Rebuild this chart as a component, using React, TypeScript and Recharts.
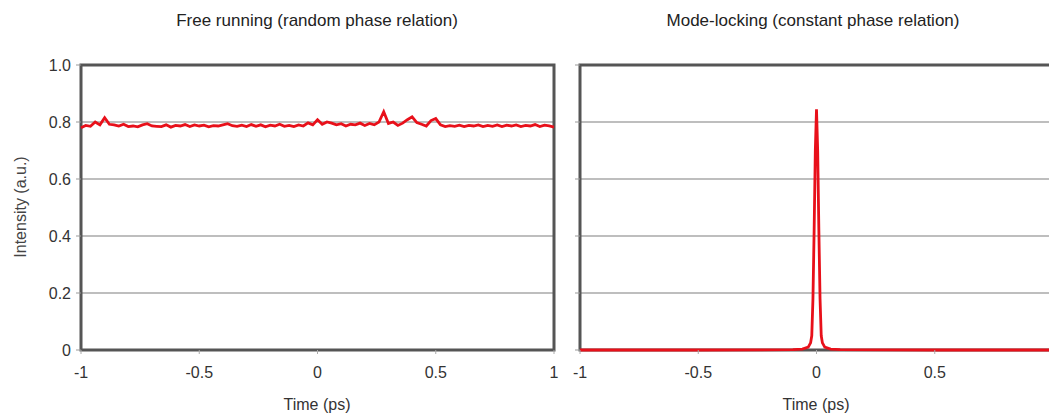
import React from "react";
import { LineChart, Line, XAxis, YAxis, CartesianGrid, ReferenceArea } from "recharts";

const freeTimes = [
  -1, -0.98, -0.96, -0.94, -0.92, -0.9, -0.88, -0.86, -0.84, -0.82,
  -0.8, -0.78, -0.76, -0.74, -0.72, -0.7, -0.68, -0.66, -0.64, -0.62,
  -0.6, -0.58, -0.56, -0.54, -0.52, -0.5, -0.48, -0.46, -0.44, -0.42,
  -0.4, -0.38, -0.36, -0.34, -0.32, -0.3, -0.28, -0.26, -0.24, -0.22,
  -0.2, -0.18, -0.16, -0.14, -0.12, -0.1, -0.08, -0.06, -0.04, -0.02,
  0, 0.02, 0.04, 0.06, 0.08, 0.1, 0.12, 0.14, 0.16, 0.18,
  0.2, 0.22, 0.24, 0.26, 0.28, 0.3, 0.32, 0.34, 0.36, 0.38,
  0.4, 0.42, 0.44, 0.46, 0.48, 0.5, 0.52, 0.54, 0.56, 0.58,
  0.6, 0.62, 0.64, 0.66, 0.68, 0.7, 0.72, 0.74, 0.76, 0.78,
  0.8, 0.82, 0.84, 0.86, 0.88, 0.9, 0.92, 0.94, 0.96, 0.98, 1,
];
const freeIntensity = [
  0.78, 0.788, 0.785, 0.8, 0.79, 0.815, 0.792, 0.79, 0.786, 0.792,
  0.784, 0.786, 0.783, 0.79, 0.794, 0.786, 0.785, 0.784, 0.79, 0.782,
  0.788, 0.786, 0.791, 0.784, 0.79, 0.786, 0.789, 0.783, 0.787, 0.786,
  0.79, 0.794, 0.787, 0.785, 0.789, 0.784, 0.791, 0.785, 0.79, 0.783,
  0.789, 0.786, 0.792, 0.785, 0.788, 0.784, 0.79, 0.786, 0.797, 0.79,
  0.808, 0.792, 0.8, 0.796, 0.79, 0.794, 0.786, 0.792, 0.79, 0.796,
  0.788, 0.795, 0.79, 0.8, 0.836, 0.795, 0.8, 0.788, 0.796, 0.808,
  0.818, 0.798, 0.792, 0.786, 0.805, 0.812, 0.79, 0.784, 0.787, 0.785,
  0.789, 0.784, 0.788, 0.786, 0.79, 0.784, 0.788, 0.785, 0.79, 0.784,
  0.789, 0.786, 0.79, 0.784, 0.788, 0.786, 0.791, 0.784, 0.789, 0.786, 0.782,
];

const lockTimes = [
  -1, -0.5, -0.1, -0.06, -0.035, -0.025, -0.02, -0.015, -0.01, -0.005,
  0, 0.005, 0.01, 0.015, 0.02, 0.025, 0.035, 0.06, 0.1, 0.5, 1,
];
const lockIntensity = [
  0, 0, 0.001, 0.003, 0.01, 0.025, 0.05, 0.18, 0.42, 0.7,
  0.845, 0.7, 0.42, 0.18, 0.05, 0.025, 0.01, 0.003, 0.001, 0, 0,
];

const xTicksFree = [-1, -0.5, 0, 0.5, 1];
const xTicksLock = [-1, -0.5, 0, 0.5];
const xTickLabels = ["-1", "-0.5", "0", "0.5", "1"];
const yTicks = [0, 0.2, 0.4, 0.6, 0.8, 1];
const yTickLabels = ["0", "0.2", "0.4", "0.6", "0.8", "1.0"];

const titles = ["Free running (random phase relation)", "Mode-locking (constant phase relation)"];
const xAxisTitle = "Time (ps)";
const yAxisTitle = "Intensity (a.u.)";

const freeData = freeTimes.map((t, i) => ({ t, v: freeIntensity[i] }));
const lockData = lockTimes.map((t, i) => ({ t, v: lockIntensity[i] }));

const FONT = "'Liberation Sans', Arial, sans-serif";
const RED = "#e8101a";

function Panel({
  data,
  left,
  showYLabels,
  xTicks,
}: {
  data: { t: number; v: number }[];
  left: number;
  showYLabels: boolean;
  xTicks: number[];
}) {
  return (
    <div style={{ position: "absolute", left, top: 0 }}>
      <LineChart width={570} height={417} data={data} margin={{ top: 65, right: 16, bottom: 37, left: 0 }}>
        <CartesianGrid vertical={false} stroke="#a8a8a8" strokeWidth={1.5} />
        <XAxis
          type="number"
          dataKey="t"
          domain={[-1, 1]}
          ticks={xTicks}
          tickFormatter={(v: number) => xTickLabels[xTicksFree.indexOf(v)] ?? ""}
          axisLine={false}
          tickLine={{ stroke: "#aaa" }}
          tickSize={4}
          tickMargin={13}
          height={30}
          tick={{ fill: "#333", fontSize: 16, fontFamily: FONT }}
          interval={0}
        />
        <YAxis
          type="number"
          domain={[0, 1]}
          ticks={yTicks}
          tickFormatter={(v: number) => (showYLabels ? yTickLabels[yTicks.indexOf(v)] ?? "" : "")}
          axisLine={false}
          tickLine={{ stroke: "#999" }}
          tickSize={5}
          tickMargin={5}
          width={81}
          tick={{ fill: "#333", fontSize: 16, fontFamily: FONT }}
          interval={0}
        />
        <ReferenceArea x1={-1} x2={1} y1={0} y2={1} fill="none" stroke="#555" strokeWidth={3} ifOverflow="visible" />
        <Line
          type="linear"
          dataKey="v"
          stroke={RED}
          strokeWidth={2.8}
          dot={false}
          isAnimationActive={false}
        />
      </LineChart>
    </div>
  );
}

const textStyle: React.CSSProperties = {
  position: "absolute",
  fontFamily: FONT,
  color: "#222",
  whiteSpace: "nowrap",
  transform: "translate(-50%, -50%)",
};

export default function App() {
  return (
    <div style={{ position: "absolute", left: 0, top: 0, width: 1049, height: 417, overflow: "hidden", background: "#fff" }}>
      <Panel data={freeData} left={0} showYLabels={true} xTicks={xTicksFree} />
      <Panel data={lockData} left={499} showYLabels={false} xTicks={xTicksLock} />
      <div style={{ ...textStyle, left: 317, top: 21, fontSize: 17 }}>{titles[0]}</div>
      <div style={{ ...textStyle, left: 813, top: 21, fontSize: 17 }}>{titles[1]}</div>
      <div style={{ ...textStyle, left: 317, top: 405, fontSize: 16, color: "#333" }}>{xAxisTitle}</div>
      <div style={{ ...textStyle, left: 816, top: 405, fontSize: 16, color: "#333" }}>{xAxisTitle}</div>
      <div
        style={{
          ...textStyle,
          left: 21,
          top: 207,
          fontSize: 16,
          color: "#444",
          transform: "translate(-50%, -50%) rotate(-90deg)",
        }}
      >
        {yAxisTitle}
      </div>
    </div>
  );
}
